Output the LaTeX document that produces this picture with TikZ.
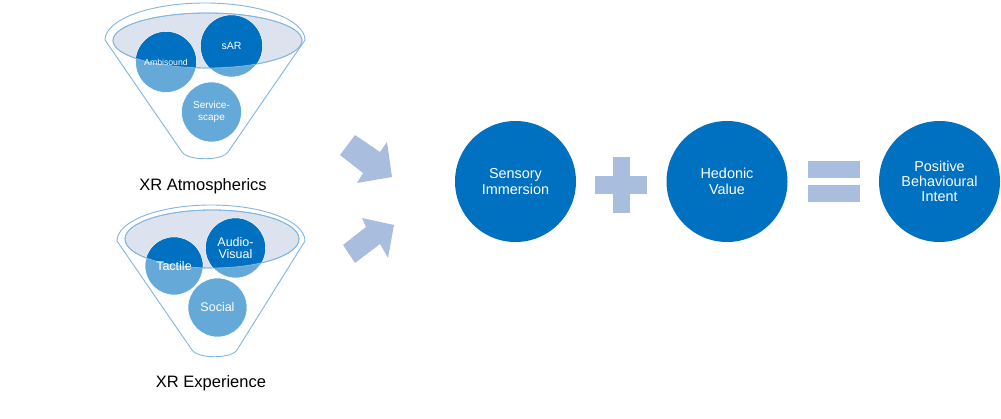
\documentclass[tikz,border=0pt]{standalone}
\usepackage{fontspec}
\setmainfont{Liberation Sans}
\usepackage{tikz}
\usetikzlibrary{arrows.meta}

\definecolor{xrdark}{HTML}{0070C0}
\definecolor{xrlight}{HTML}{65A9D9}
\definecolor{xrpale}{HTML}{DCE3EE}
\definecolor{xrrim}{HTML}{80B6E1}
\definecolor{xrblock}{HTML}{A9BEDF}

\begin{document}
\begin{tikzpicture}%
	[x=1pt, y=-1pt,
	rim/.style={draw=xrrim, line width=0.9pt},
	lens/.style={fill=xrpale, draw=xrrim, line width=0.8pt},
	bubble/.style={circle, inner sep=0pt, minimum size=#1, fill=xrlight, draw=white, line width=0.6pt},
	bubtext/.style={inner sep=0pt, text=white, align=center},
	bigcirc/.style={circle, inner sep=0pt, minimum size=121pt, fill=xrdark, text=white, align=center,
		font=\fontsize{14.4}{15.3}\selectfont},
	block/.style={fill=xrblock},
	caption/.style={anchor=base, font=\fontsize{16.5}{18}\selectfont}]
%
\useasboundingbox (0,0) rectangle (1001,419);
%%
%% Funnel one: XR Atmospherics
%%
\draw[rim] (105,40) arc[start angle=180, end angle=0, x radius=100pt, y radius=37pt]
	-- (228,152) .. controls (222,161) and (188,161) .. (182,152) -- cycle;
\path[lens] (207.5,40.5) ellipse[x radius=94.5pt, y radius=27.5pt];
\node[bubble=61pt] (ambi) at (166,62) {};
\node[bubble=62pt] (sar) at (231.5,46) {};
\node[bubble=60pt] (scape) at (211.5,112) {};
\begin{scope}
	\clip (207.5,40.5) ellipse[x radius=94.5pt, y radius=27.5pt];
	\fill[xrdark] (ambi) circle[radius=30.2pt];
	\fill[xrdark] (sar) circle[radius=30.7pt];
\end{scope}
\draw[xrrim, line width=0.8pt] (207.5,40.5) ellipse[x radius=94.5pt, y radius=27.5pt];
\node[bubtext, font=\fontsize{8.7}{10}\selectfont] (ambitxt) at (ambi) {Ambisound};
\node[bubtext, font=\fontsize{10.5}{12}\selectfont] (sartxt) at (sar) {sAR};
\node[bubtext, font=\fontsize{10}{11.5}\selectfont] (scapetxt) at (scape) {Service-\\scape};
\node[caption] (atmos) at (203,191) {XR Atmospherics};
%%
%% Funnel two: XR Experience
%%
\draw[rim] (117,241) arc[start angle=180, end angle=0, x radius=94pt, y radius=36pt]
	-- (237,350) .. controls (231,359) and (198,359) .. (192,350) -- cycle;
\path[lens] (212,239) ellipse[x radius=87pt, y radius=29pt];
\node[bubble=58pt] (tactile) at (174,266) {};
\node[bubble=60pt] (audio) at (235.5,248) {};
\node[bubble=59pt] (social) at (217.5,307.5) {};
\begin{scope}
	\clip (212,239) ellipse[x radius=87pt, y radius=29pt];
	\fill[xrdark] (tactile) circle[radius=28.7pt];
	\fill[xrdark] (audio) circle[radius=29.7pt];
\end{scope}
\draw[xrrim, line width=0.8pt] (212,239) ellipse[x radius=87pt, y radius=29pt];
\node[bubtext, font=\fontsize{12.5}{13.5}\selectfont] (tactiletxt) at (tactile) {Tactile};
\node[bubtext, font=\fontsize{12.5}{12}\selectfont] (audiotxt) at (audio) {Audio-\\Visual};
\node[bubtext, font=\fontsize{12.5}{13.5}\selectfont] (socialtxt) at (social) {Social};
\node[caption] (exper) at (211,388) {XR Experience};
%%
%% Block arrows
%%
\fill[block] (355,135) -- (380,152) -- (387,142) -- (392,177) -- (357,183) -- (363,173) -- (340,155) -- cycle;
\fill[block] (343,245) -- (366,227) -- (362,218) -- (394,225) -- (388,258) -- (380,244) -- (355,263) -- cycle;
%%
%% Equation
%%
\node[bigcirc] (sensory) at (515.5,181.5) {Sensory\\Immersion};
\node[bigcirc] (hedonic) at (727,181.5) {Hedonic\\Value};
\node[bigcirc] (intent) at (939.5,181.5) {Positive\\Behavioural\\Intent};
%% plus
\fill[block] (595,176) rectangle (647,194);
\fill[block] (613,157) rectangle (630,213);
%% equals
\fill[block] (808,161) rectangle (860,178);
\fill[block] (808,185) rectangle (860,202);
%%
\end{tikzpicture}
\end{document}
